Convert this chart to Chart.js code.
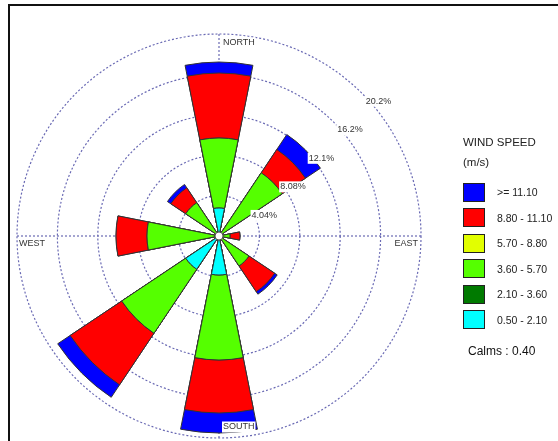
<!DOCTYPE html>
<html>
<head>
<meta charset="utf-8">
<script src="https://cdn.jsdelivr.net/npm/chart.js@4.4.0/dist/chart.umd.min.js"></script>
<style>
  html, body { margin: 0; padding: 0; background: #fff; }
  #wrap { position: relative; width: 558px; height: 441px; overflow: hidden; font-family: "Liberation Sans", Arial, sans-serif; }
  #frame { position: absolute; left: 8px; top: 4px; width: 600px; height: 500px; border-top: 2px solid #111; border-left: 2px solid #111; }
  #rose { position: absolute; left: 0; top: 0; }
  .lg { position: absolute; color: #222; white-space: nowrap; }
  .title { left: 463px; font-size: 11.5px; line-height: 14px; }
  .box { position: absolute; left: 463px; width: 20px; height: 17px; border: 1px solid #222; }
  .item { left: 497px; font-size: 10.5px; line-height: 12px; }
  #calms { position: absolute; left: 468px; top: 343px; font-size: 12px; line-height: 16px; color: #111; }
</style>
</head>
<body>
<div id="wrap">
  <div id="frame"></div>
  <canvas id="rose" width="558" height="441"></canvas>
  <div class="lg title" style="top:135px">WIND SPEED</div>
  <div class="lg title" style="top:155px">(m/s)</div>
  <div id="legend"></div>
  <div id="calms"></div>
</div>
<script>
// 16 sectors, clockwise from north
const directions = ['N','NNE','NE','ENE','E','ESE','SE','SSE','S','SSW','SW','WSW','W','WNW','NW','NNW'];
const bandLabels = ['0.50 - 2.10','2.10 - 3.60','3.60 - 5.70','5.70 - 8.80','8.80 - 11.10','>= 11.10'];

// frequency (%) per speed band
const band050  = [2.8,0,0.4,0,0.3,0,0.3,0,3.9,0,4.0,0,0.4,0,0.3,0];
const band210  = [0,0,0,0,0,0,0,0,0,0,0,0,0,0,0,0];
const band360  = [7.0,0,7.2,0,0.8,0,3.3,0,8.5,0,7.7,0,6.8,0,3.7,0];
const band570  = [0,0,0,0,0,0,0,0,0,0,0,0,0,0,0,0];
const band880  = [6.5,0,2.8,0,1.0,0,3.1,0,5.3,0,6.2,0,3.1,0,1.8,0];
const band1110 = [1.1,0,1.8,0,0,0,0.3,0,2.0,0,1.5,0,0,0,0.4,0];

const ringValues = [0, 4.04, 8.08, 12.12, 16.16, 20.2];
const ringLabels = ['', '4.04%', '8.08%', '12.1%', '16.2%', '20.2%'];
const compassLabels = ['NORTH', 'EAST', 'SOUTH', 'WEST'];
const calms = 0.40;

const bandColors = ['#00ffff', '#007a00', '#55ff00', '#e2ff00', '#ff0000', '#0000ff'];
const gridColor = '#6a6ab4';

// stack the bands outward: each dataset is the running total
const bands = [band050, band210, band360, band570, band880, band1110];
let running = directions.map(() => 0);
const datasets = bands.map((b, k) => {
  running = running.map((v, i) => +(v + b[i]).toFixed(2));
  return {
    label: bandLabels[k],
    data: running.slice(),
    backgroundColor: bandColors[k],
    borderColor: '#333',
    borderWidth: 1
  };
});

function boxText(ctx, text, x, y, align) {
  const w = ctx.measureText(text).width;
  const left = align === 'right' ? x - w : x;
  ctx.fillStyle = '#fff';
  ctx.fillRect(left - 1, y - 5.5, w + 2, 11);
  ctx.fillStyle = '#333';
  ctx.textAlign = align;
  ctx.textBaseline = 'middle';
  ctx.fillText(text, x, y);
}

const roseExtras = {
  id: 'roseExtras',
  beforeDatasetsDraw(chart) {
    const s = chart.scales.r, ctx = chart.ctx;
    const R = s.getDistanceFromCenterForValue(s.max);
    ctx.save();
    ctx.strokeStyle = gridColor;
    ctx.lineWidth = 1.2;
    ctx.setLineDash([2, 2]);
    for (let a = 0; a < 4; a++) {
      const ang = a * Math.PI / 2;
      ctx.beginPath();
      ctx.moveTo(s.xCenter, s.yCenter);
      ctx.lineTo(s.xCenter + R * Math.sin(ang), s.yCenter - R * Math.cos(ang));
      ctx.stroke();
    }
    ctx.restore();
  },
  afterDatasetsDraw(chart) {
    const s = chart.scales.r, ctx = chart.ctx;
    const cx = s.xCenter, cy = s.yCenter;
    const R = s.getDistanceFromCenterForValue(s.max);
    ctx.save();
    // calm circle
    ctx.beginPath();
    ctx.arc(cx, cy, s.getDistanceFromCenterForValue(calms), 0, Math.PI * 2);
    ctx.fillStyle = '#fff';
    ctx.fill();
    ctx.strokeStyle = '#555';
    ctx.lineWidth = 1;
    ctx.stroke();

    ctx.font = '9px "Liberation Sans", Arial, sans-serif';
    ringValues.forEach((v, i) => {
      if (!ringLabels[i]) return;
      const r = s.getDistanceFromCenterForValue(v);
      boxText(ctx, ringLabels[i], cx + r * Math.SQRT1_2 + 4, cy - r * Math.SQRT1_2 + 8, 'left');
    });

    boxText(ctx, compassLabels[0], cx + 4, cy - R + 9, 'left');
    boxText(ctx, compassLabels[1], cx + R - 3, cy + 8, 'right');
    boxText(ctx, compassLabels[2], cx + 4, cy + R - 11, 'left');
    boxText(ctx, compassLabels[3], cx - R + 2, cy + 8, 'left');
    ctx.restore();
  }
};

new Chart(document.getElementById('rose'), {
  type: 'polarArea',
  data: { labels: directions, datasets: datasets },
  options: {
    responsive: false,
    animation: false,
    layout: { padding: { left: 17, top: 34, right: 137, bottom: 3 } },
    plugins: { legend: { display: false }, tooltip: { enabled: false } },
    scales: {
      r: {
        min: 0,
        max: 20.2,
        startAngle: -11.25,
        afterBuildTicks: (axis) => { axis.ticks = ringValues.map(v => ({ value: v })); },
        ticks: { display: false },
        grid: { circular: true, color: gridColor, lineWidth: 1.2 },
        border: { dash: [2, 2] },
        angleLines: { display: false },
        pointLabels: { display: false }
      }
    }
  },
  plugins: [roseExtras]
});

// legend, strongest band on top
const legend = document.getElementById('legend');
for (let k = bandLabels.length - 1, row = 0; k >= 0; k--, row++) {
  const cy = 192 + row * 25.5;
  const box = document.createElement('div');
  box.className = 'box';
  box.style.top = (cy - 9.5) + 'px';
  box.style.background = bandColors[k];
  legend.appendChild(box);
  const t = document.createElement('div');
  t.className = 'lg item';
  t.style.top = (cy - 6) + 'px';
  t.textContent = bandLabels[k];
  legend.appendChild(t);
}
document.getElementById('calms').textContent = 'Calms : ' + calms.toFixed(2);
</script>
</body>
</html>
